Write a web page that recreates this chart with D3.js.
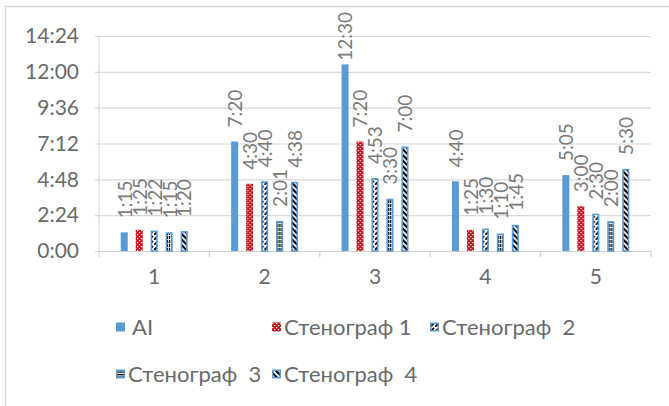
<!DOCTYPE html>
<html>
<head>
<meta charset="utf-8">
<script src="https://cdn.jsdelivr.net/npm/d3@7/dist/d3.min.js"></script>
<style>
  html, body { margin: 0; padding: 0; background: #ffffff; }
  svg { display: block; }
  text { font-family: "Lato", "Open Sans", "Noto Sans", sans-serif; }
</style>
</head>
<body>
<svg id="chart" width="669" height="406"></svg>
<script>
// Durations per speaker, h:mm
const categories = ["1", "2", "3", "4", "5"];
const seriesNames = ["AI", "Стенограф 1", "Стенограф  2", "Стенограф  3", "Стенограф  4"];
const aiValues = ["1:15", "7:20", "12:30", "4:40", "5:05"];
const steno1Values = ["1:25", "4:30", "7:20", "1:25", "3:00"];
const steno2Values = ["1:22", "4:40", "4:53", "1:30", "2:30"];
const steno3Values = ["1:15", "2:01", "3:30", "1:10", "2:00"];
const steno4Values = ["1:20", "4:38", "7:00", "1:45", "5:30"];
const yTickLabels = ["0:00", "2:24", "4:48", "7:12", "9:36", "12:00", "14:24"];

const toMinutes = s => { const [h, m] = s.split(":").map(Number); return h * 60 + m; };
const allSeries = [aiValues, steno1Values, steno2Values, steno3Values, steno4Values];

const svg = d3.select("#chart");
const W = 669, H = 406;
const plot = { left: 99, right: 651, top: 36, bottom: 251 };

// chart frame
svg.append("rect")
  .attr("x", 5.5).attr("y", 6.5)
  .attr("width", W + 10).attr("height", H + 10)
  .attr("fill", "#ffffff").attr("stroke", "#d6d6d6").attr("stroke-width", 1.5);

// fill patterns
const defs = svg.append("defs");
const blue = "#5b9bd5";

const p1 = defs.append("pattern").attr("id", "pat1").attr("patternUnits", "userSpaceOnUse")
  .attr("width", 4).attr("height", 4);
p1.append("rect").attr("width", 4).attr("height", 4).attr("fill", "#c8141e");
p1.append("rect").attr("x", 0).attr("y", 0).attr("width", 1.2).attr("height", 1.2).attr("fill", "#ffffff");
p1.append("rect").attr("x", 2).attr("y", 2).attr("width", 1.2).attr("height", 1.2).attr("fill", "#ffffff");

const p2 = defs.append("pattern").attr("id", "pat2").attr("patternUnits", "userSpaceOnUse")
  .attr("width", 5).attr("height", 5);
p2.append("rect").attr("width", 5).attr("height", 5).attr("fill", "#ffffff");
p2.append("path").attr("d", "M0,5 L4,1").attr("stroke", "#000").attr("stroke-width", 1.8);

const p3 = defs.append("pattern").attr("id", "pat3").attr("patternUnits", "userSpaceOnUse")
  .attr("width", 2).attr("height", 4);
p3.append("rect").attr("width", 2).attr("height", 4).attr("fill", "#ffffff");
p3.append("rect").attr("x", 0).attr("y", 0).attr("width", 1.2).attr("height", 3.2).attr("fill", "#000");

const p3l = defs.append("pattern").attr("id", "pat3l").attr("patternUnits", "userSpaceOnUse")
  .attr("width", 4).attr("height", 2.5);
p3l.append("rect").attr("width", 4).attr("height", 2.5).attr("fill", "#ffffff");
p3l.append("rect").attr("x", 0).attr("y", 0).attr("width", 4).attr("height", 1.3).attr("fill", "#000");

const p4 = defs.append("pattern").attr("id", "pat4").attr("patternUnits", "userSpaceOnUse")
  .attr("width", 4).attr("height", 4).attr("patternTransform", "rotate(-45)");
p4.append("rect").attr("width", 4).attr("height", 4).attr("fill", "#ffffff");
p4.append("rect").attr("x", 0).attr("y", 0).attr("width", 2.2).attr("height", 4).attr("fill", "#000");

const fills = [blue, "url(#pat1)", "url(#pat2)", "url(#pat3)", "url(#pat4)"];
const legendFills = [blue, "url(#pat1)", "url(#pat2)", "url(#pat3l)", "url(#pat4)"];
const strokes = [null, null, blue, blue, blue];

// scales
const yMax = toMinutes(yTickLabels[yTickLabels.length - 1]);
const y = d3.scaleLinear().domain([0, yMax]).range([plot.bottom, plot.top]);
const x0 = d3.scaleBand().domain(categories).range([plot.left, plot.right]);
const groupW = x0.bandwidth() * 0.606;
const x1 = d3.scaleBand().domain(d3.range(seriesNames.length))
  .range([(x0.bandwidth() - groupW) / 2, (x0.bandwidth() + groupW) / 2])
  .paddingInner(0.533);

// gridlines + y axis
const yAxis = d3.axisLeft(y)
  .tickValues(yTickLabels.map(toMinutes))
  .tickFormat((d, i) => yTickLabels[i])
  .tickSize(-(plot.right - plot.left) - 4)
  .tickSizeOuter(0)
  .tickPadding(16);
const gy = svg.append("g").attr("transform", `translate(${plot.left - 4},0)`).call(yAxis);
gy.select(".domain").remove();
gy.selectAll(".tick line").attr("stroke", "#d9d9d9").attr("stroke-width", 1.2);
gy.selectAll(".tick text").attr("fill", "#6a6a6a").attr("font-size", 21)
  .attr("font-family", "Lato, 'Open Sans', sans-serif");
svg.append("line").attr("x1", plot.left).attr("x2", plot.left)
  .attr("y1", plot.top).attr("y2", plot.bottom)
  .attr("stroke", "#d9d9d9").attr("stroke-width", 1.2);

// x axis
const xAxis = d3.axisBottom(x0).tickSize(0).tickPadding(18);
const gx = svg.append("g").attr("transform", `translate(0,${plot.bottom})`).call(xAxis);
gx.select(".domain").attr("stroke", "#d0d0d0").attr("stroke-width", 1.2);
gx.selectAll(".tick text").attr("fill", "#6a6a6a").attr("font-size", 21)
  .attr("font-family", "Lato, 'Open Sans', sans-serif");
gx.selectAll(".bound").data(d3.range(categories.length + 1)).join("line")
  .attr("x1", i => plot.left + i * x0.step()).attr("x2", i => plot.left + i * x0.step())
  .attr("y1", 0).attr("y2", 6)
  .attr("stroke", "#d0d0d0").attr("stroke-width", 1.2);

// bars
const groups = svg.append("g").selectAll("g").data(categories).join("g")
  .attr("transform", d => `translate(${x0(d)},0)`);

const barData = (c, ci) => allSeries.map((vals, si) => ({ si, label: vals[ci], v: toMinutes(vals[ci]) }));

groups.each(function (c, ci) {
  const g = d3.select(this);
  const data = barData(c, ci);
  g.selectAll("rect").data(data).join("rect")
    .attr("x", d => x1(d.si) + (strokes[d.si] ? 0.75 : 0))
    .attr("width", d => x1.bandwidth() - (strokes[d.si] ? 1.5 : 0))
    .attr("y", d => y(d.v) + (strokes[d.si] ? 0.75 : 0))
    .attr("height", d => plot.bottom - y(d.v) - (strokes[d.si] ? 0.75 : 0))
    .attr("fill", d => fills[d.si])
    .attr("stroke", d => strokes[d.si] || "none")
    .attr("stroke-width", 1.6);

  g.selectAll("text.lbl").data(data).join("text")
    .attr("class", "lbl")
    .attr("font-size", 19)
    .attr("fill", "#7a7a7a")
    .attr("dy", "0.36em")
    .text(d => d.label)
    .each(function (d) {
      const len = this.getComputedTextLength();
      let start = y(d.v) - 14;
      if (start - len < 12) start = 12 + len;
      const cx = x1(d.si) + x1.bandwidth() / 2 + 0.5;
      d3.select(this).attr("transform", `translate(${cx},${start}) rotate(-90)`);
    });
});

// legend
const legendCols = [116, 272, 430];
const legendRows = [327, 374];
const legendItems = seriesNames.map((name, i) => ({
  name, i,
  col: i < 3 ? i : i - 3,
  row: i < 3 ? 0 : 1
}));
const lg = svg.append("g").selectAll("g").data(legendItems).join("g")
  .attr("transform", d => `translate(${legendCols[d.col]},${legendRows[d.row]})`);
lg.append("rect")
  .attr("x", d => strokes[d.i] ? 0.75 : 0).attr("y", d => -4.5 + (strokes[d.i] ? 0.75 : 0))
  .attr("width", d => 9 - (strokes[d.i] ? 1.5 : 0)).attr("height", d => 9 - (strokes[d.i] ? 1.5 : 0))
  .attr("fill", d => legendFills[d.i])
  .attr("stroke", d => strokes[d.i] || "none").attr("stroke-width", 1.5);
lg.append("text")
  .attr("x", d => d.i === 0 ? 16 : 12)
  .attr("dy", "0.36em")
  .attr("font-size", 22)
  .attr("fill", "#6a6a6a")
  .style("white-space", "pre")
  .text(d => d.name);
</script>
</body>
</html>
